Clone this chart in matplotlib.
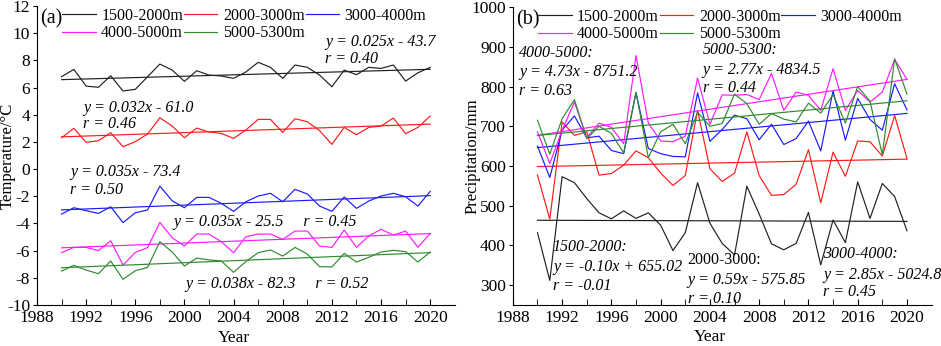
import numpy as np
import matplotlib
matplotlib.use("Agg")
import matplotlib.pyplot as plt

plt.rcParams['font.family'] = ['Liberation Serif', 'DejaVu Serif']
plt.rcParams['axes.unicode_minus'] = False

years = np.arange(1990, 2021)
bands = ['1500-2000m', '2000-3000m', '3000-4000m', '4000-5000m', '5000-5300m']
colors = ['#202020', '#ff1a1a', '#1a1aff', '#ff1aff', '#2e8b2e']

# (a) mean temperature, deg C
temp_1500_2000 = [6.80, 7.34, 6.11, 6.02, 6.87, 5.75, 5.87, 6.80, 7.73, 7.29, 6.46,
                  7.24, 6.92, 6.85, 6.68, 7.15, 7.86, 7.49, 6.68, 7.66, 7.49,
                  6.92, 6.06, 7.29, 6.95, 7.49, 7.41, 7.66, 6.48, 7.09, 7.49]
temp_2000_3000 = [2.31, 3.00, 1.97, 2.09, 2.68, 1.65, 2.02, 2.58, 3.78, 3.17, 2.31,
                  3.02, 2.73, 2.63, 2.26, 2.88, 3.66, 3.66, 2.70, 3.71, 3.49,
                  2.83, 1.82, 3.07, 2.53, 3.07, 3.17, 3.76, 2.61, 3.07, 3.91]
temp_3000_4000 = [-3.31, -2.84, -3.06, -3.26, -2.77, -3.94, -3.21, -3.01, -1.25, -2.33, -2.84,
                  -2.08, -2.08, -2.52, -3.11, -2.40, -1.98, -1.78, -2.40, -1.49, -1.83,
                  -2.72, -3.11, -2.05, -2.89, -2.35, -1.98, -1.78, -2.03, -2.72, -1.64]
temp_4000_5000 = [-6.15, -5.76, -5.76, -6.00, -5.27, -7.06, -6.13, -5.78, -3.92, -5.05, -5.66,
                  -4.78, -4.78, -5.34, -6.15, -4.97, -4.78, -4.78, -5.17, -4.56, -4.56,
                  -5.66, -5.76, -4.48, -5.76, -4.92, -4.43, -4.85, -4.56, -5.75, -4.73]
temp_5000_5300 = [-7.50, -7.08, -7.43, -7.70, -6.76, -8.11, -7.48, -7.23, -5.34, -6.10, -7.13,
                  -6.55, -6.68, -6.76, -7.60, -6.80, -6.15, -5.95, -6.40, -5.76, -6.25,
                  -7.18, -7.20, -6.20, -6.84, -6.49, -6.10, -5.98, -6.07, -6.84, -6.10]

# (b) precipitation, mm
prec_1500_2000 = [432, 312, 573, 558, 518, 482, 467, 487, 468, 482, 451,
                  387, 432, 558, 456, 405, 376, 549, 479, 404, 389,
                  405, 483, 351, 464, 407, 560, 468, 556, 523, 437]
prec_2000_3000 = [577, 466, 711, 677, 686, 577, 581, 602, 638, 621, 582,
                  551, 576, 740, 593, 561, 582, 686, 576, 526, 528,
                  554, 641, 507, 635, 574, 663, 661, 625, 727, 619]
prec_3000_4000 = [650, 571, 690, 726, 671, 675, 639, 631, 784, 644, 631,
                  624, 623, 784, 662, 692, 728, 719, 666, 705, 654,
                  669, 713, 638, 789, 665, 770, 717, 690, 807, 741]
prec_4000_5000 = [686, 606, 690, 761, 671, 708, 697, 656, 878, 708, 663,
                  661, 675, 821, 705, 779, 778, 780, 767, 833, 740,
                  786, 778, 740, 845, 740, 790, 761, 786, 868, 818]
prec_5000_5300 = [715, 630, 719, 767, 669, 700, 682, 633, 786, 621, 686,
                  705, 656, 735, 700, 707, 781, 757, 705, 732, 718,
                  711, 758, 733, 780, 708, 800, 763, 628, 870, 781]

temp = [temp_1500_2000, temp_2000_3000, temp_3000_4000, temp_4000_5000, temp_5000_5300]
prec = [prec_1500_2000, prec_2000_3000, prec_3000_4000, prec_4000_5000, prec_5000_5300]

fig = plt.figure(figsize=(9.41, 3.46), dpi=100)
ax1 = fig.add_axes([0.0393, 0.1185, 0.444, 0.864])
ax2 = fig.add_axes([0.545, 0.1185, 0.445, 0.861])


def draw_panel(ax, series):
    handles = []
    for vals, c, lab in zip(series, colors, bands):
        vals = np.asarray(vals, dtype=float)
        h, = ax.plot(years, vals, color=c, lw=0.85, label=lab)
        k, b = np.polyfit(years, vals, 1)
        ax.plot(years, k * years + b, color=c, lw=0.85)
        handles.append(h)
    # row-major order like the original legend
    order = [0, 3, 1, 4, 2]
    ax.legend([handles[i] for i in order], [bands[i] for i in order],
              ncol=3, loc='upper left', bbox_to_anchor=(0.06, 0.995),
              frameon=False, fontsize=11.5, handlelength=2.1,
              handletextpad=0.35, columnspacing=0.05, labelspacing=0.12,
              borderpad=0, borderaxespad=0)
    for s in ['top', 'right']:
        ax.spines[s].set_visible(False)
    ax.set_xlim(1988, 2022)
    ax.set_xticks(np.arange(1988, 2021, 4))
    ax.set_xticks(np.arange(1990, 2021, 4), minor=True)
    ax.tick_params(axis='x', which='both', direction='in', length=4, labelsize=12.5, pad=3.5)
    ax.tick_params(axis='y', direction='out', length=3, labelsize=12.5, pad=2)
    ax.set_xlabel('Year', fontsize=12.5)
    ax.xaxis.set_label_coords(16 / 34, -0.082)


draw_panel(ax1, temp)
ax1.set_ylim(-10, 12)
ax1.set_yticks(np.arange(-10, 13, 2))
ax1.set_ylabel('Temperature/°C', fontsize=12)
ax1.yaxis.set_label_coords(-0.052, 0.5)
ax1.text(0.008, 0.99, '(a)', transform=ax1.transAxes, fontsize=14.5, va='top', ha='left')

tkw = dict(fontsize=11.5, style='italic', va='center', ha='left')
ax1.text(2011.45, 9.35, 'y = 0.025x - 43.7', **tkw)
ax1.text(2011.45, 8.1, 'r = 0.40', **tkw)
ax1.text(1991.75, 4.5, 'y = 0.032x - 61.0', **tkw)
ax1.text(1991.75, 3.32, 'r = 0.46', **tkw)
ax1.text(1990.7, -0.2, 'y = 0.035x - 73.4', **tkw)
ax1.text(1990.7, -1.54, 'r = 0.50', **tkw)
ax1.text(1999.1, -3.9, 'y = 0.035x - 25.5     r = 0.45', **tkw)
ax1.text(2000.05, -8.45, 'y = 0.038x - 82.3     r = 0.52', **tkw)

draw_panel(ax2, prec)
ax2.set_ylim(250, 1000)
ax2.set_yticks(np.arange(300, 1001, 100))
ax2.set_ylabel('Precipitation/mm', fontsize=12)
ax2.yaxis.set_label_coords(-0.078, 0.5)
ax2.text(0.008, 0.99, '(b)', transform=ax2.transAxes, fontsize=14.5, va='top', ha='left')

ax2.text(1988.5, 884, '4000-5000:', **tkw)
ax2.text(1988.5, 836, 'y = 4.73x - 8751.2', **tkw)
ax2.text(1988.5, 789, 'r = 0.63', **tkw)
ax2.text(2003.4, 892, '5000-5300:', **tkw)
ax2.text(2003.4, 841, 'y = 2.77x - 4834.5', **tkw)
ax2.text(2003.4, 796, 'r = 0.44', **tkw)
ax2.text(1991.25, 396, '1500-2000:', **tkw)
ax2.text(1991.25, 346, 'y = -0.10x + 655.02', **tkw)
ax2.text(1991.25, 298, 'r = -0.01', **tkw)
ax2.text(2002.2, 363, '2000-3000:', fontsize=11.5, va='center', ha='left')
ax2.text(2002.2, 313, 'y = 0.59x - 575.85', **tkw)
ax2.text(2002.2, 265, 'r = 0.10', **tkw)
ax2.text(2013.2, 378, '3000-4000:', **tkw)
ax2.text(2013.2, 325, 'y = 2.85x - 5024.8', **tkw)
ax2.text(2013.2, 283, 'r = 0.45', **tkw)

fig.savefig('out.png', dpi=100)
